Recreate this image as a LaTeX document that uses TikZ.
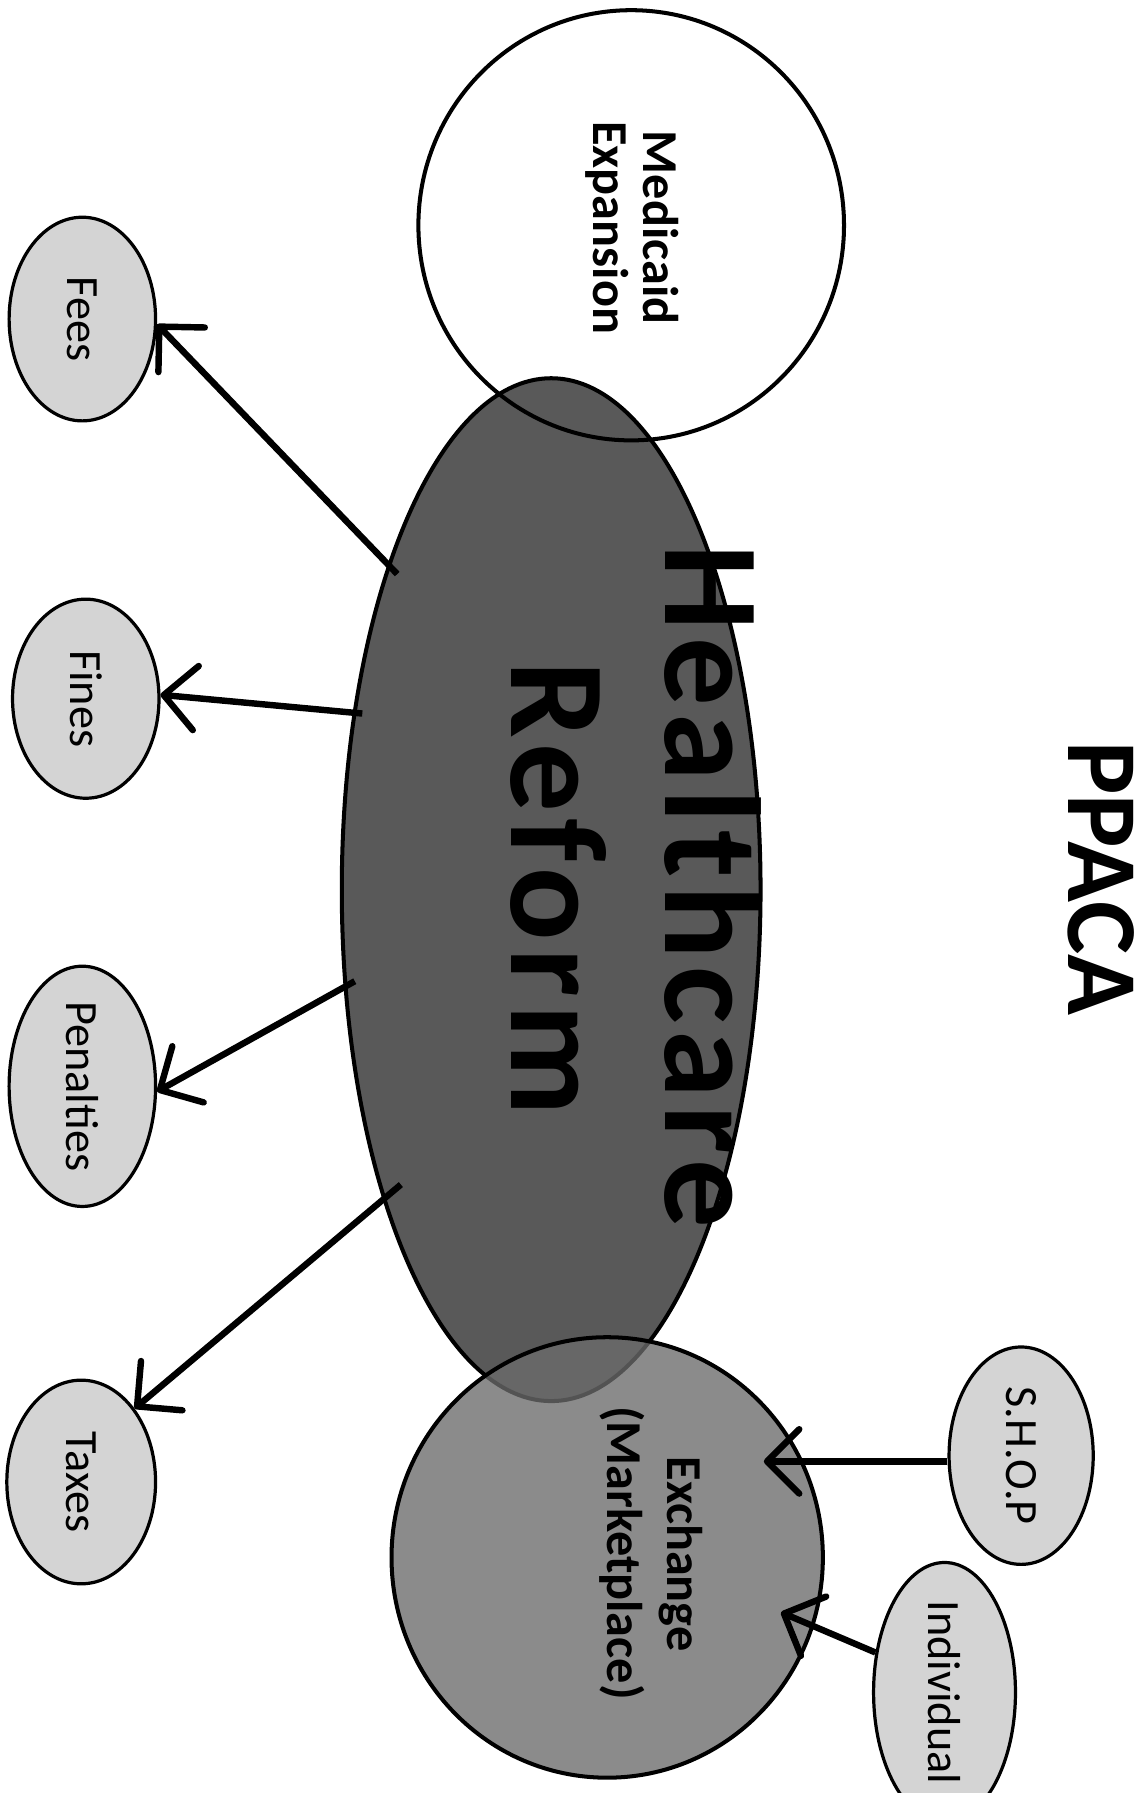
\documentclass[tikz,border=0pt]{standalone}
\usepackage{fontspec}
\setmainfont{Carlito}
\usepackage{graphicx}
\usetikzlibrary{shapes.geometric,arrows.meta,calc}
\definecolor{hrfill}{gray}{0.35}
\definecolor{exfill}{gray}{0.42}
\definecolor{smallfill}{gray}{0.83}
\begin{document}
\begin{tikzpicture}[x=0.01cm,y=-0.01cm,
  oval/.style={ellipse, draw=black, line width=0.8pt, fill=smallfill, inner sep=0pt,
    minimum width=1.28cm, minimum height=1.8cm, font=\fontsize{11.5}{13}\selectfont},
  bigshape/.style={ellipse, draw=black, line width=1pt, inner sep=0pt},
  vtext/.style={rotate=-90, anchor=base, inner sep=0pt},
  hrlabel/.style={vtext, font=\fontsize{34}{38}\selectfont\bfseries\addfontfeature{LetterSpace=5.5}},
  midlabel/.style={vtext, font=\fontsize{12.5}{15}\selectfont\bfseries},
  arr/.style={line width=1.6pt, -{Straight Barb[length=8pt,width=16pt,round]}}]
\path[use as bounding box] (0,0) rectangle (1000,1568);

% main shapes
\node[bigshape, fill=hrfill, minimum width=3.66cm, minimum height=8.94cm] (hr) at (482,778) {};
\node[bigshape, minimum width=3.72cm, minimum height=3.76cm] (med) at (552,197) {};
\node[bigshape, fill=exfill, fill opacity=0.78, draw opacity=1, minimum width=3.77cm, minimum height=3.85cm] (ex) at (531,1362) {};

% texts of main shapes
\node[vtext, font=\fontsize{25}{30}\selectfont\bfseries] (title) at (934,768) {PPACA};
\node[hrlabel] (hrt1) at (582,775) {Healthcare};
\node[hrlabel] (hrt2) at (447,777) {Reform};
\node[midlabel] (medt1) at (563,199) {Medicaid};
\node[midlabel] (medt2) at (519,199) {Expansion};
\node[midlabel] (ext1) at (584,1359) {Exchange};
\node[midlabel] (ext2) at (531,1358) {(Marketplace)};

% small ovals
\node[oval, minimum height=1.78cm] (fees) at (72,279) {\rotatebox{-90}{Fees}};
\node[oval, minimum height=1.74cm] (fines) at (75,611) {\rotatebox{-90}{Fines}};
\node[oval, minimum height=1.9cm] (pen) at (72,950) {\rotatebox{-90}{Penalties}};
\node[oval, minimum width=1.3cm, minimum height=1.78cm] (tax) at (71,1296) {\rotatebox{-90}{Taxes}};
\node[oval, minimum width=1.26cm, minimum height=1.9cm] (shop) at (893,1273) {\rotatebox{-90}{S.H.O.P}};
\node[oval, minimum width=1.24cm, minimum height=1.84cm] (ind) at (826,1480) {\rotatebox{-90}{Individual}};

% connectors
\draw[arr] ($(hr.center)!0.953!(hr.116)$) -- (fees.-4);
\draw[arr] ($(hr.center)!0.957!(hr.137.5)$) -- (fines.3);
\draw[arr] ($(hr.center)!0.946!(hr.205.2)$) -- (pen.-4);
\draw[arr] ($(hr.center)!0.914!(hr.243.2)$) -- (tax.54);
\coordinate (exA) at (668,1278);
\coordinate (exB) at (683,1410);
\draw[arr] (shop.west |- exA) -- (exA);
\draw[arr] (ind.150) -- (exB);
\end{tikzpicture}
\end{document}
